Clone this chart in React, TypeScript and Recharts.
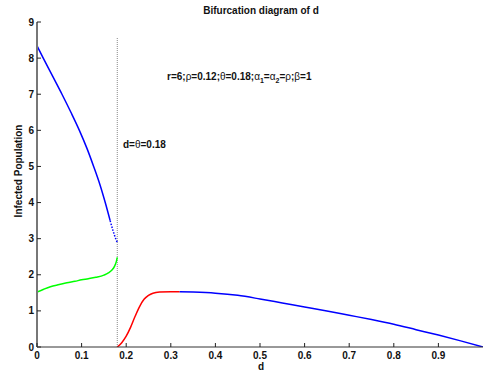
import { Line, LineChart, ReferenceLine, XAxis, YAxis } from "recharts"

// upper branch (blue), ends dotted near the fold at d = theta
const upperD = [0, 0.014, 0.035, 0.056, 0.076, 0.095, 0.112, 0.127, 0.141, 0.153, 0.164]
const upperI = [8.34, 8.0, 7.5, 7.0, 6.5, 6.0, 5.5, 5.0, 4.5, 4.0, 3.5]
const tipD = [0.164, 0.171, 0.175, 0.178, 0.18]
const tipI = [3.5, 3.2, 3.05, 2.95, 2.9]

// middle branch (green)
const greenD = [0, 0.015, 0.03, 0.05, 0.067, 0.085, 0.1, 0.115, 0.132, 0.15, 0.16, 0.168, 0.174, 0.178, 0.18]
const greenI = [1.52, 1.6, 1.67, 1.73, 1.78, 1.82, 1.86, 1.89, 1.93, 1.99, 2.05, 2.13, 2.24, 2.37, 2.48]

// branch after d = theta: red part, then blue part
const redD = [0.18, 0.19, 0.2, 0.21, 0.22, 0.23, 0.24, 0.25, 0.26, 0.275, 0.3, 0.32]
const redI = [0, 0.12, 0.3, 0.55, 0.85, 1.12, 1.32, 1.43, 1.49, 1.52, 1.53, 1.53]
const lowD = [0.32, 0.35, 0.4, 0.45, 0.5, 0.55, 0.6, 0.65, 0.7, 0.75, 0.8, 0.85, 0.9, 0.95, 1.0]
const lowI = [1.53, 1.52, 1.49, 1.43, 1.33, 1.22, 1.11, 1.0, 0.88, 0.76, 0.63, 0.48, 0.33, 0.17, 0]

const xTicks = [0, 0.1, 0.2, 0.3, 0.4, 0.5, 0.6, 0.7, 0.8, 0.9]
const yTicks = [0, 1, 2, 3, 4, 5, 6, 7, 8, 9]
const theta = 0.18
const dottedTop = 8.57

const toRows = (d: number[], v: number[]) => d.map((x, i) => ({ d: x, v: v[i] }))

const font = "'Liberation Sans', Arial, Helvetica, sans-serif"

const YTick = (props: any) => {
    const { x, y, payload } = props
    const ax = x + 3
    return (
        <g>
            <line x1={ax} x2={ax + 4} y1={y} y2={y} stroke="#222" strokeWidth={1} />
            <text x={x} y={y} textAnchor="end" dominantBaseline="central" fontSize={10} fontWeight="bold" fontFamily={font} fill="#111">
                {payload.value}
            </text>
        </g>
    )
}

const XTick = (props: any) => {
    const { x, y, payload } = props
    const ay = y - 6
    return (
        <g>
            <line x1={x} x2={x} y1={ay} y2={ay - 4} stroke="#222" strokeWidth={1} />
            <text x={x} y={y + 6} textAnchor="middle" fontSize={10} fontWeight="bold" fontFamily={font} fill="#111">
                {payload.value}
            </text>
        </g>
    )
}

const txt: React.CSSProperties = {
    position: "absolute",
    fontFamily: font,
    fontSize: 10,
    fontWeight: "bold",
    lineHeight: "10px",
    whiteSpace: "nowrap",
    color: "#111",
}
const greek: React.CSSProperties = { fontWeight: "normal" }
const sub: React.CSSProperties = { fontSize: 7, verticalAlign: "-3px", lineHeight: 0 }

export default function App() {
    return (
        <div style={{ position: "absolute", left: 0, top: 0, width: 483, height: 375, background: "#fff" }}>
            <LineChart width={483} height={375} margin={{ top: 22, right: 0, bottom: 0, left: 0 }}>
                <XAxis
                    type="number"
                    dataKey="d"
                    domain={[0, 1]}
                    ticks={xTicks}
                    height={28}
                    tickSize={0}
                    tickMargin={6}
                    tickLine={false}
                    tick={<XTick />}
                    axisLine={{ stroke: "#333", strokeWidth: 1 }}
                    allowDataOverflow
                />
                <YAxis
                    type="number"
                    dataKey="v"
                    domain={[0, 9]}
                    ticks={yTicks}
                    width={37}
                    tickSize={0}
                    tickMargin={3}
                    tickLine={false}
                    tick={<YTick />}
                    axisLine={{ stroke: "#777", strokeWidth: 2 }}
                    allowDataOverflow
                />
                <ReferenceLine
                    segment={[{ x: theta, y: 0 }, { x: theta, y: dottedTop }]}
                    stroke="#888"
                    strokeDasharray="1 1"
                    strokeWidth={1}
                />
                <Line data={toRows(upperD, upperI)} dataKey="v" type="monotone" stroke="#0000ff" strokeWidth={1.5} dot={false} isAnimationActive={false} />
                <Line data={toRows(tipD, tipI)} dataKey="v" type="monotone" stroke="#0000ff" strokeWidth={1.5} strokeDasharray="1.5 1.5" dot={false} isAnimationActive={false} />
                <Line data={toRows(greenD, greenI)} dataKey="v" type="monotone" stroke="#00ff00" strokeWidth={1.5} dot={false} isAnimationActive={false} />
                <Line data={toRows(redD, redI)} dataKey="v" type="monotone" stroke="#ff0000" strokeWidth={1.5} dot={false} isAnimationActive={false} />
                <Line data={toRows(lowD, lowI)} dataKey="v" type="monotone" stroke="#0000ff" strokeWidth={1.5} dot={false} isAnimationActive={false} />
            </LineChart>

            <div style={{ ...txt, left: 261, top: 5.6, transform: "translateX(-50%)" }}>Bifurcation diagram of d</div>
            <div style={{ ...txt, left: 167, top: 72 }}>
                r=6;<span style={greek}>ρ</span>=0.12;<span style={greek}>θ</span>=0.18;<span style={greek}>α</span>
                <sub style={sub}>1</sub>=<span style={greek}>α</span>
                <sub style={sub}>2</sub>=<span style={greek}>ρ</span>;<span style={greek}>β</span>=1
            </div>
            <div style={{ ...txt, left: 123, top: 140 }}>
                d=<span style={greek}>θ</span>=0.18
            </div>
            <div style={{ ...txt, left: 19, top: 171, transform: "translate(-50%, -50%) rotate(-90deg)" }}>Infected Population</div>
            <div style={{ ...txt, left: 261, top: 362, transform: "translateX(-50%)" }}>d</div>
        </div>
    )
}
